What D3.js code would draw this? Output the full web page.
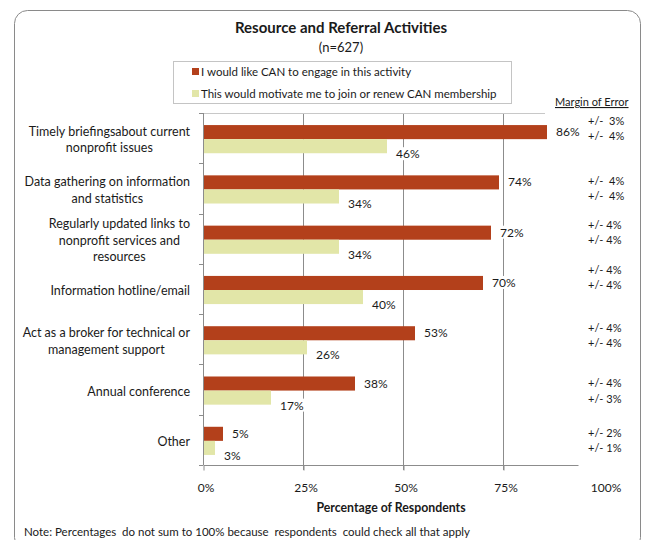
<!DOCTYPE html>
<html>
<head>
<meta charset="utf-8">
<script src="https://cdn.jsdelivr.net/npm/d3@7"></script>
<style>
  html, body { margin: 0; padding: 0; background: #fff; }
  svg { display: block; font-family: Lato, "Open Sans", sans-serif; }
</style>
</head>
<body>
<svg id="chart" width="646" height="540"></svg>
<script>
// Survey results: share of respondents per activity
const categories = [
  ["Timely briefingsabout current", "nonprofit issues"],
  ["Data gathering on information", "and statistics"],
  ["Regularly updated links to", "nonprofit services and", "resources"],
  ["Information hotline/email"],
  ["Act as a broker for technical or", "management support"],
  ["Annual conference"],
  ["Other"]
];
const likeEngage = [86, 74, 72, 70, 53, 38, 5];
const motivateJoin = [46, 34, 34, 40, 26, 17, 3];
const marginLike = ["+/-  3%", "+/-  4%", "+/- 4%", "+/- 4%", "+/- 4%", "+/- 4%", "+/- 2%"];
const marginJoin = ["+/-  4%", "+/-  4%", "+/- 4%", "+/- 4%", "+/- 4%", "+/- 3%", "+/- 1%"];
const xTicks = [0, 25, 50, 75, 100];
const seriesNames = ["I would like CAN to engage in this activity",
                     "This would motivate me to join or renew CAN membership"];
const seriesColors = ["#b3401b", "#e2e6a8"];

const svg = d3.select("#chart");
const textColor = "#1a1a1a";
const gridColor = "#8c8c8c";

// Outer frame
svg.append("rect")
  .attr("x", 14.5).attr("y", 10.5)
  .attr("width", 626).attr("height", 540)
  .attr("rx", 13).attr("ry", 13)
  .attr("fill", "#fff").attr("stroke", "#8a8a8a").attr("stroke-width", 1);

// Title
svg.append("text").attr("x", 341).attr("y", 33)
  .attr("text-anchor", "middle").attr("font-weight", "bold")
  .attr("font-size", 15).attr("fill", textColor)
  .text("Resource and Referral Activities");
svg.append("text").attr("x", 341).attr("y", 52)
  .attr("text-anchor", "middle").attr("font-size", 13).attr("fill", textColor)
  .text("(n=627)");

// Legend
const legend = svg.append("g");
legend.append("rect").attr("x", 173.5).attr("y", 61.5)
  .attr("width", 338).attr("height", 42)
  .attr("fill", "#fff").attr("stroke", "#c4c4c4");
seriesNames.forEach((name, i) => {
  const ly = 72 + i * 22;
  legend.append("rect").attr("x", 192).attr("y", ly - 4)
    .attr("width", 7).attr("height", 7).attr("fill", seriesColors[i]);
  legend.append("text").attr("x", 201).attr("y", ly + 4)
    .attr("font-size", 11.5).attr("fill", textColor).text(name);
});

// Scales
const x = d3.scaleLinear().domain([0, 100]).range([203, 603]);
const y = d3.scaleBand().domain(d3.range(categories.length)).range([113, 465]);
const bw = y.bandwidth();
const ySub = d3.scaleBand().domain([0, 1]).range([bw * 0.24, bw * 0.80]);
const plotTop = 113, plotBottom = 465;

// Gridlines
const plot = svg.append("g");
plot.selectAll("line.grid")
  .data(xTicks.filter(t => t > 0 && t < 100))
  .join("line").attr("class", "grid")
  .attr("x1", d => x(d) + 0.5).attr("x2", d => x(d) + 0.5)
  .attr("y1", plotTop).attr("y2", plotBottom + 5)
  .attr("stroke", gridColor).attr("stroke-width", 1);

// Plot top border
plot.append("line")
  .attr("x1", x(0)).attr("x2", 545).attr("y1", plotTop + 0.5).attr("y2", plotTop + 0.5)
  .attr("stroke", "#c8c8c8");

// X axis
const xAxis = d3.axisBottom(x).tickValues(xTicks.filter(t => t < 100))
  .tickSize(5).tickFormat("");
const xg = svg.append("g").attr("transform", `translate(0.5,${plotBottom + 0.5})`).call(xAxis);
xg.select(".domain").attr("d", `M${x(0)},0H578`).attr("stroke", gridColor);
xg.selectAll(".tick line").attr("stroke", gridColor);
svg.selectAll("text.xlab").data(xTicks).join("text").attr("class", "xlab")
  .attr("x", d => x(d) + 3).attr("y", 492)
  .attr("text-anchor", "middle").attr("font-size", 12).attr("fill", textColor)
  .text(d => d + "%");

svg.append("text").attr("x", 391).attr("y", 512)
  .attr("text-anchor", "middle").attr("font-weight", "bold")
  .attr("font-size", 12.3).attr("fill", textColor)
  .text("Percentage of Respondents");

// Y axis
const yAxis = d3.axisLeft(y).tickSize(0).tickFormat("");
const yg = svg.append("g").attr("transform", `translate(${x(0) + 0.5},0)`).call(yAxis);
yg.select(".domain").attr("d", `M0,${plotTop}V${plotBottom}`).attr("stroke", gridColor);
svg.selectAll("line.ytick")
  .data(d3.range(categories.length + 1))
  .join("line").attr("class", "ytick")
  .attr("x1", x(0) - 4).attr("x2", x(0))
  .attr("y1", d => Math.round(plotTop + d * bw) + 0.5)
  .attr("y2", d => Math.round(plotTop + d * bw) + 0.5)
  .attr("stroke", gridColor);

// Category labels: block right-aligned, lines centred within the block
const labelRight = 190;
categories.forEach((lines, i) => {
  const g = svg.append("g");
  const cy = y(i) + bw / 2 + 2;
  const lh = 16.5;
  const texts = lines.map((line, j) =>
    g.append("text")
      .attr("y", cy + (j - (lines.length - 1) / 2) * lh + 4)
      .attr("font-size", 12.5).attr("fill", textColor)
      .attr("text-anchor", "middle")
      .text(line));
  const widths = texts.map(t => t.node().getComputedTextLength());
  const blockW = d3.max(widths);
  texts.forEach(t => t.attr("x", labelRight - blockW / 2));
});

// Bars
const rows = categories.map((c, i) => ({ i, vals: [likeEngage[i], motivateJoin[i]] }));
const groups = svg.selectAll("g.cat").data(rows).join("g").attr("class", "cat")
  .attr("transform", d => `translate(0,${y(d.i)})`);
groups.selectAll("rect.bar")
  .data(d => d.vals.map((v, s) => ({ v, s })))
  .join("rect").attr("class", "bar")
  .attr("x", x(0) + 1)
  .attr("y", d => ySub(d.s))
  .attr("width", d => x(d.v) - x(0) - 1)
  .attr("height", ySub.bandwidth())
  .attr("fill", d => seriesColors[d.s]);

// Value labels with white backing
groups.each(function (d) {
  const g = d3.select(this);
  d.vals.forEach((v, s) => {
    const ty = ySub(s) + ySub.bandwidth() / 2 + 4 + (s === 1 ? 8 : 0);
    const t = g.append("text")
      .attr("x", x(v) + 9).attr("y", ty)
      .attr("font-size", 12).attr("fill", textColor)
      .text(v + "%");
    const bb = t.node().getBBox();
    g.insert("rect", () => t.node())
      .attr("x", bb.x - 2).attr("y", bb.y + 1)
      .attr("width", bb.width + 4).attr("height", bb.height - 2)
      .attr("fill", "#fff");
  });
});

// Margin of error column
svg.append("text").attr("x", 555).attr("y", 106)
  .attr("font-size", 11).attr("fill", textColor)
  .attr("text-decoration", "underline")
  .text("Margin of Error");
const moeOffsets = [[-17, -2], [-7, 8], [-14, 1], [-19, -4], [-11, 4], [-7, 9], [-7, 8]];
categories.forEach((c, i) => {
  const cy = y(i) + bw / 2;
  [marginLike[i], marginJoin[i]].forEach((m, s) => {
    svg.append("text")
      .attr("x", 588).attr("y", cy + moeOffsets[i][s] + 4)
      .attr("font-size", 11).attr("fill", textColor)
      .attr("xml:space", "preserve")
      .style("white-space", "pre")
      .text(m);
  });
});

// Footnote
svg.append("text").attr("x", 24).attr("y", 536)
  .attr("font-size", 11.5).attr("fill", textColor)
  .style("white-space", "pre")
  .text("Note: Percentages  do not sum to 100% because  respondents  could check all that apply");
</script>
</body>
</html>
